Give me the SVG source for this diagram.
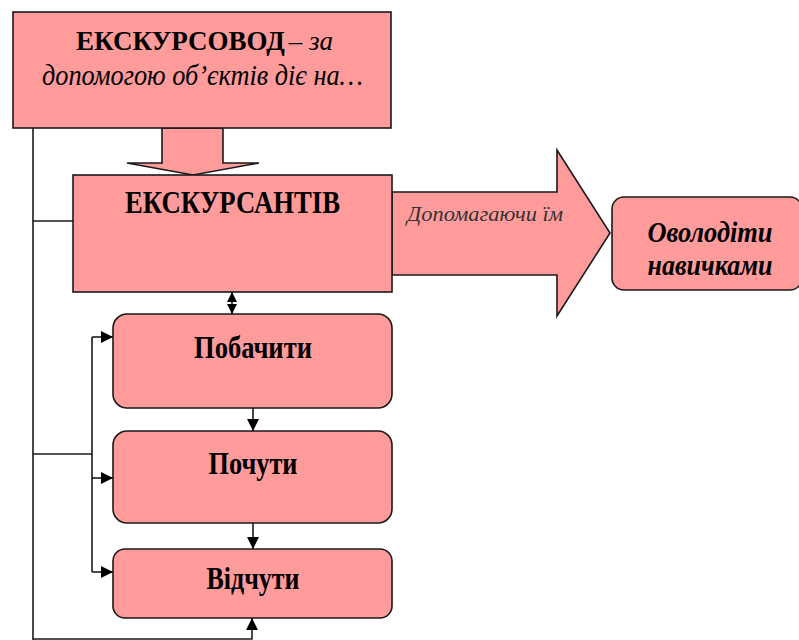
<svg xmlns="http://www.w3.org/2000/svg" width="799" height="640" viewBox="0 0 799 640">
<style>
.box{fill:#ff9b9b;stroke:#1a1a1a;stroke-width:1.6}
.ln{fill:none;stroke:#1a1a1a;stroke-width:1.6}
text{font-family:"Liberation Serif","DejaVu Serif","Times New Roman",serif;fill:#000}
.b{font-weight:bold}
.i{font-style:italic}
</style>
<defs>
<marker id="ah" viewBox="0 0 12 12" refX="12" refY="6" markerWidth="12" markerHeight="12" markerUnits="userSpaceOnUse" orient="auto">
<path d="M0,0 L12,6 L0,12 z" fill="#000"/>
</marker>
<marker id="ahs" viewBox="0 0 10 10" refX="10" refY="5" markerWidth="10" markerHeight="10" markerUnits="userSpaceOnUse" orient="auto">
<path d="M0,0 L10,5 L0,10 z" fill="#000"/>
</marker>
</defs>
<rect width="799" height="640" fill="#fff"/>
<g id="connectors">
<path class="ln" d="M33,128 V640"/>
<path class="ln" d="M33,221 H73"/>
<path class="ln" d="M33,454 H92"/>
<path class="ln" d="M92,337 V572"/>
<path class="ln" d="M92,337 H113" marker-end="url(#ah)"/>
<path class="ln" d="M92,478 H113" marker-end="url(#ah)"/>
<path class="ln" d="M92,572 H113" marker-end="url(#ah)"/>
<path class="ln" d="M232,303 V292" marker-end="url(#ahs)"/>
<path class="ln" d="M232,303 V314" marker-end="url(#ahs)"/>
<path class="ln" d="M253,408 V431" marker-end="url(#ah)"/>
<path class="ln" d="M253,523 V549" marker-end="url(#ah)"/>
<path class="ln" d="M33,639 H252 V618" marker-end="url(#ah)"/>
</g>
<g id="arrow-down">
<polygon class="box" points="162,128 223,128 223,163 259,163 193,175 127,163 162,163"/>
</g>
<g id="arrow-right">
<polygon class="box" points="392,192 557,192 557,150 610,233 557,316 557,275 392,275"/>
<text class="i" x="407" y="221" font-size="20" style="fill:#333" textLength="156" lengthAdjust="spacingAndGlyphs">Допомагаючи їм</text>
</g>
<g id="ekskursovod">
<rect class="box" x="13" y="12" width="378" height="116"/>
<text x="76" y="50" font-size="27"><tspan class="b">ЕКСКУРСОВОД</tspan><tspan class="i" dx="4">– за</tspan></text>
<text class="i" x="42" y="85" font-size="30" textLength="321" lengthAdjust="spacingAndGlyphs">допомогою об’єктів діє на…</text>
</g>
<g id="ekskursantiv">
<rect class="box" x="73" y="175" width="319" height="117"/>
<text class="b" x="125" y="213" font-size="32" textLength="215" lengthAdjust="spacingAndGlyphs">ЕКСКУРСАНТІВ</text>
</g>
<g id="ovolodity">
<rect class="box" x="612" y="197" width="190" height="93" rx="12"/>
<text class="b i" x="710" y="242" font-size="30" text-anchor="middle" textLength="125" lengthAdjust="spacingAndGlyphs">Оволодіти</text>
<text class="b i" x="710" y="275" font-size="30" text-anchor="middle" textLength="125" lengthAdjust="spacingAndGlyphs">навичками</text>
</g>
<g id="pobachyty">
<rect class="box" x="113" y="314" width="279" height="94" rx="14"/>
<text class="b" x="253" y="358" font-size="31" text-anchor="middle" textLength="118" lengthAdjust="spacingAndGlyphs">Побачити</text>
</g>
<g id="pochuty">
<rect class="box" x="113" y="431" width="279" height="92" rx="14"/>
<text class="b" x="253" y="474" font-size="31" text-anchor="middle" textLength="89" lengthAdjust="spacingAndGlyphs">Почути</text>
</g>
<g id="vidchuty">
<rect class="box" x="113" y="549" width="279" height="69" rx="12"/>
<text class="b" x="253" y="589" font-size="31" text-anchor="middle" textLength="93" lengthAdjust="spacingAndGlyphs">Відчути</text>
</g>
</svg>
